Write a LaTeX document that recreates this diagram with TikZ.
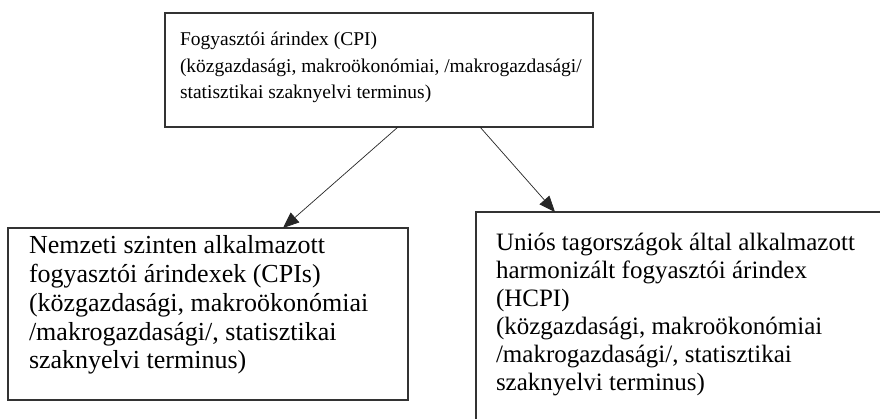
\documentclass[tikz,border=0pt]{standalone}
\usepackage{fontspec}
\setmainfont{Liberation Serif}
\usetikzlibrary{arrows.meta}
\begin{document}
\begin{tikzpicture}[x=1pt,y=-1pt,
  box/.style={draw=black!80, line width=1.3pt, rectangle, inner sep=0pt, outer sep=0pt, anchor=north west},
  txt/.style={anchor=north west, inner sep=0pt, outer sep=0pt, align=left, text=black},
  link/.style={draw=black!85, line width=0.7pt, -{Triangle[length=16pt,width=13pt]}}
]
\useasboundingbox (0,0) rectangle (880,418);
\clip (0,0) rectangle (880,418);
\fill[white] (0,0) rectangle (880,418);
\node[box, minimum width=428pt, minimum height=114pt] (cpi) at (165,13) {};
\node[box, minimum width=400pt, minimum height=172pt] (nat) at (8,228) {};
\node[box, minimum width=430pt, minimum height=230pt] (hcpi) at (476,212) {};
\node[txt, font=\fontsize{19.5}{26.5}\selectfont] (cpitext) at (180,27)
  {\strut Fogyasztói árindex (CPI)\\(közgazdasági, makroökonómiai, /makrogazdasági/\\statisztikai szaknyelvi terminus)};
\node[txt, font=\fontsize{26}{28.7}\selectfont] (nattext) at (29,233.9)
  {\strut Nemzeti szinten alkalmazott\\fogyasztói árindexek (CPIs)\\(közgazdasági, makroökonómiai\\/makrogazdasági/, statisztikai\\szaknyelvi terminus)};
\node[txt, font=\fontsize{25}{28}\selectfont] (hcpitext) at (496,230.4)
  {\strut Uniós tagországok által alkalmazott\\harmonizált fogyasztói árindex\\(HCPI)\\(közgazdasági, makroökonómiai\\/makrogazdasági/, statisztikai\\szaknyelvi terminus)};
\draw[link] ([xshift=19pt]cpi.south) -- ([xshift=75pt]nat.north);
\draw[link] ([xshift=101pt]cpi.south) -- ([xshift=79pt]hcpi.north west);
\end{tikzpicture}
\end{document}
